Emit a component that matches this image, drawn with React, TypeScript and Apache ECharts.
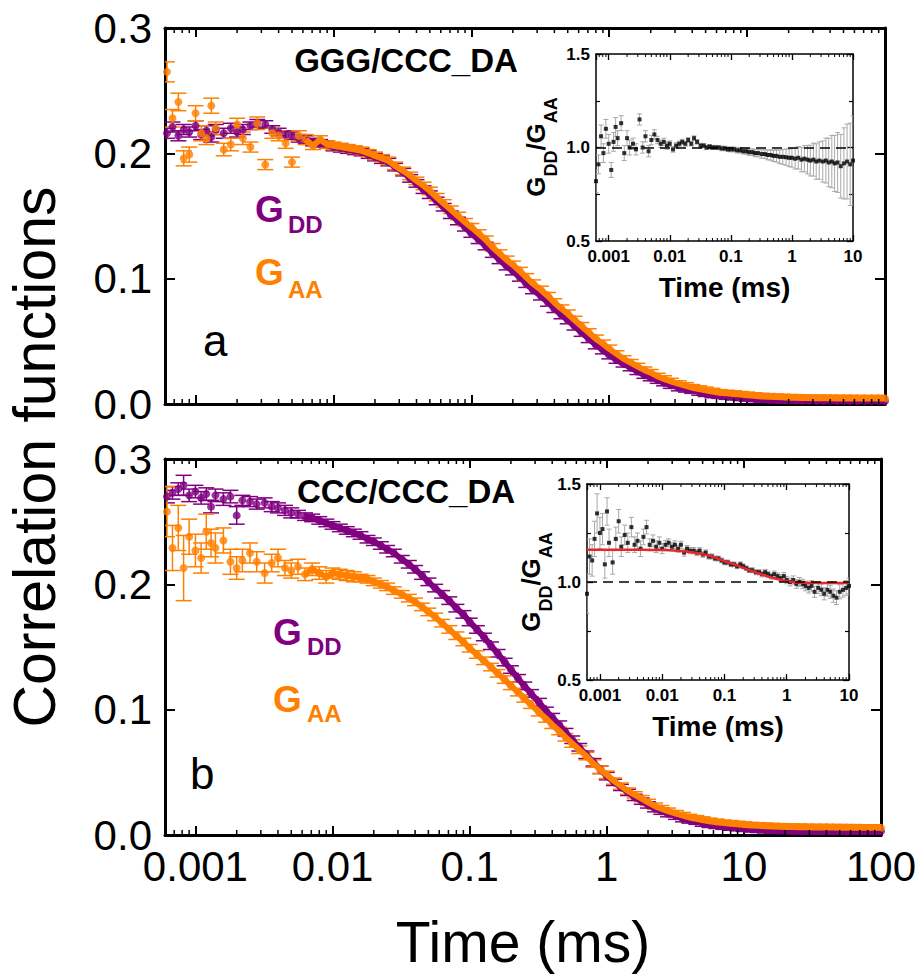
import React, { useEffect, useRef } from 'react';
import * as echarts from 'echarts';

// ---------------- data ----------------
const times = [
  0.00062, 0.00068, 0.00075, 0.00082, 0.0009, 0.001, 0.0011, 0.0012, 0.0013, 0.0014,
  0.0016, 0.0018, 0.002, 0.0022, 0.0025, 0.0028, 0.0032, 0.0036, 0.004, 0.0045,
  0.005, 0.0056, 0.0063, 0.0071, 0.008, 0.009, 0.01, 0.0113, 0.0127, 0.0143,
  0.016, 0.018, 0.02, 0.0225, 0.025, 0.028, 0.032, 0.036, 0.04, 0.045,
  0.05, 0.056, 0.063, 0.071, 0.08, 0.09, 0.1, 0.113, 0.127, 0.143,
  0.16, 0.18, 0.2, 0.225, 0.25, 0.28, 0.32, 0.36, 0.4, 0.45,
  0.5, 0.56, 0.63, 0.71, 0.8, 0.9, 1, 1.13, 1.27, 1.43,
  1.6, 1.8, 2, 2.25, 2.5, 2.8, 3.2, 3.6, 4, 4.5,
  5, 5.6, 6.3, 7.1, 8, 9, 10, 11.3, 12.7, 14.3,
  16, 18, 20, 22.5, 25, 28, 32, 36, 40, 45,
  50, 56, 63, 71, 80, 90, 100,
];

// panel a: GGG/CCC_DA
const gddA = [
  0.216, 0.221, 0.214, 0.219, 0.217, 0.222, 0.215, 0.218, 0.213, 0.219,
  0.216, 0.220, 0.217, 0.219, 0.222, 0.224, 0.223, 0.219, 0.217, 0.215,
  0.214, 0.212, 0.211, 0.209, 0.208, 0.207, 0.205,
  0.204, 0.203, 0.202, 0.201, 0.199, 0.197, 0.195, 0.193, 0.189, 0.185,
  0.180, 0.176, 0.171, 0.167, 0.162, 0.157, 0.151, 0.146, 0.141, 0.136,
  0.131, 0.126, 0.120, 0.115, 0.110, 0.106, 0.101, 0.096, 0.091, 0.086,
  0.081, 0.076, 0.071, 0.067, 0.062, 0.057, 0.052, 0.047, 0.043, 0.039,
  0.035, 0.032, 0.029, 0.026, 0.023, 0.021, 0.019, 0.017, 0.015, 0.013,
  0.012, 0.011, 0.0095, 0.0085, 0.0075, 0.007, 0.0062, 0.0057, 0.0052, 0.0048,
  0.0044, 0.004, 0.0037, 0.0034, 0.0032, 0.003, 0.0029, 0.0028, 0.0027, 0.0026,
  0.0025, 0.0025, 0.0024, 0.0024, 0.0024, 0.0023, 0.0023, 0.0023, 0.0023, 0.0023,
];
const gddAErr = [
  0.004, 0.004, 0.004, 0.004, 0.004, 0.004, 0.004, 0.004, 0.004, 0.004,
  0.004, 0.004, 0.004, 0.004, 0.003, 0.003, 0.003, 0.003, 0.003, 0.003,
  0.003, 0.003, 0.003, 0.003, 0.003, 0.003, 0.003,
  0.003, 0.003, 0.003, 0.003, 0.003, 0.003, 0.003, 0.003, 0.003, 0.003,
  0.003, 0.003, 0.003, 0.003, 0.003, 0.003, 0.003, 0.003, 0.003, 0.003,
  0.003, 0.003, 0.003, 0.003, 0.003, 0.003, 0.003, 0.003, 0.003, 0.003,
  0.003, 0.003, 0.003, 0.003, 0.003, 0.003, 0.003, 0.003, 0.003, 0.003,
  0.0025, 0.0025, 0.0025, 0.0025, 0.0025, 0.0025, 0.0025, 0.0025, 0.0025, 0.0025,
  0.0025, 0.0025, 0.0025, 0.0025, 0.0025, 0.0025, 0.0025, 0.0025, 0.0025, 0.0025,
  0.0025, 0.0025, 0.0025, 0.0025, 0.0025, 0.0025, 0.0025, 0.0025, 0.0025, 0.0025,
  0.0025, 0.0025, 0.0025, 0.0025, 0.0025, 0.0025, 0.0025, 0.0025, 0.0025, 0.0025,
];
const gaaA = [
  0.265, 0.228, 0.241, 0.196, 0.199, 0.232, 0.216, 0.212, 0.238, 0.220,
  0.203, 0.207, 0.223, 0.212, 0.205, 0.224, 0.191, 0.216, 0.214, 0.208,
  0.193, 0.214, 0.211, 0.206, 0.211, 0.207, 0.206,
  0.205, 0.204, 0.203, 0.202, 0.200, 0.198, 0.196, 0.194, 0.190, 0.186,
  0.182, 0.178, 0.174, 0.170, 0.165, 0.160, 0.155, 0.150, 0.145, 0.141,
  0.136, 0.131, 0.125, 0.120, 0.115, 0.111, 0.106, 0.101, 0.096, 0.091,
  0.086, 0.081, 0.076, 0.072, 0.067, 0.062, 0.057, 0.052, 0.048, 0.044,
  0.040, 0.036, 0.033, 0.030, 0.027, 0.025, 0.022, 0.020, 0.018, 0.016,
  0.0145, 0.013, 0.012, 0.011, 0.010, 0.009, 0.0085, 0.008, 0.0075, 0.007,
  0.0065, 0.006, 0.0058, 0.0055, 0.0053, 0.005, 0.005, 0.0048, 0.0047, 0.0046,
  0.0045, 0.0045, 0.0044, 0.0044, 0.0044, 0.0043, 0.0043, 0.0043, 0.0043, 0.0043,
];
const gaaAErr = [
  0.008, 0.007, 0.007, 0.006, 0.006, 0.006, 0.006, 0.005, 0.006, 0.005,
  0.005, 0.005, 0.005, 0.005, 0.004, 0.005, 0.004, 0.004, 0.004, 0.004,
  0.004, 0.004, 0.004, 0.003, 0.003, 0.003, 0.003,
  0.003, 0.003, 0.003, 0.003, 0.003, 0.003, 0.003, 0.003, 0.003, 0.003,
  0.003, 0.003, 0.003, 0.003, 0.003, 0.003, 0.003, 0.003, 0.003, 0.003,
  0.003, 0.003, 0.003, 0.003, 0.003, 0.003, 0.003, 0.003, 0.003, 0.003,
  0.003, 0.003, 0.003, 0.003, 0.003, 0.003, 0.003, 0.003, 0.003, 0.003,
  0.0025, 0.0025, 0.0025, 0.0025, 0.0025, 0.0025, 0.0025, 0.0025, 0.0025, 0.0025,
  0.0025, 0.0025, 0.0025, 0.0025, 0.0025, 0.0025, 0.0025, 0.0025, 0.0025, 0.0025,
  0.0025, 0.0025, 0.0025, 0.0025, 0.0025, 0.0025, 0.0025, 0.0025, 0.0025, 0.0025,
  0.0025, 0.0025, 0.0025, 0.0025, 0.0025, 0.0025, 0.0025, 0.0025, 0.0025, 0.0025,
];

// panel b: CCC/CCC_DA
const gddB = [
  0.270, 0.273, 0.276, 0.279, 0.271, 0.274, 0.269, 0.272, 0.262, 0.271,
  0.268, 0.270, 0.255, 0.267, 0.266, 0.264, 0.265, 0.262, 0.261, 0.259,
  0.257, 0.256, 0.254, 0.253, 0.251, 0.249, 0.247,
  0.245, 0.243, 0.241, 0.239, 0.236, 0.234, 0.231, 0.228, 0.225, 0.220,
  0.216, 0.212, 0.207, 0.202, 0.197, 0.192, 0.187, 0.181, 0.176, 0.170,
  0.164, 0.158, 0.151, 0.145, 0.138, 0.132, 0.125, 0.119, 0.113, 0.106,
  0.099, 0.094, 0.088, 0.082, 0.076, 0.070, 0.064, 0.058, 0.052, 0.047,
  0.042, 0.038, 0.034, 0.030, 0.027, 0.024, 0.021, 0.019, 0.017, 0.015,
  0.013, 0.012, 0.011, 0.0095, 0.0085, 0.0077, 0.007, 0.0063, 0.0058, 0.0053,
  0.0049, 0.0045, 0.0042, 0.004, 0.0038, 0.0036, 0.0035, 0.0034, 0.0033, 0.0032,
  0.0032, 0.0031, 0.0031, 0.0031, 0.003, 0.003, 0.003, 0.003, 0.003, 0.003,
];
const gddBErr = [
  0.005, 0.005, 0.005, 0.008, 0.005, 0.005, 0.005, 0.005, 0.005, 0.005,
  0.005, 0.005, 0.007, 0.004, 0.004, 0.004, 0.004, 0.004, 0.004, 0.004,
  0.004, 0.003, 0.003, 0.003, 0.003, 0.003, 0.003,
  0.003, 0.003, 0.003, 0.003, 0.003, 0.003, 0.003, 0.003, 0.003, 0.003,
  0.003, 0.003, 0.003, 0.003, 0.003, 0.003, 0.003, 0.003, 0.003, 0.003,
  0.003, 0.003, 0.003, 0.003, 0.003, 0.003, 0.003, 0.003, 0.003, 0.003,
  0.003, 0.003, 0.003, 0.003, 0.003, 0.003, 0.003, 0.003, 0.003, 0.003,
  0.0025, 0.0025, 0.0025, 0.0025, 0.0025, 0.0025, 0.0025, 0.0025, 0.0025, 0.0025,
  0.0025, 0.0025, 0.0025, 0.0025, 0.0025, 0.0025, 0.0025, 0.0025, 0.0025, 0.0025,
  0.0025, 0.0025, 0.0025, 0.0025, 0.0025, 0.0025, 0.0025, 0.0025, 0.0025, 0.0025,
  0.0025, 0.0025, 0.0025, 0.0025, 0.0025, 0.0025, 0.0025, 0.0025, 0.0025, 0.0025,
];
const gaaB = [
  0.258, 0.229, 0.245, 0.213, 0.238, 0.227, 0.221, 0.242, 0.233, 0.229,
  0.235, 0.218, 0.213, 0.219, 0.225, 0.218, 0.209, 0.217, 0.221, 0.213,
  0.211, 0.214, 0.208, 0.212, 0.209, 0.206, 0.209,
  0.208, 0.207, 0.206, 0.205, 0.204, 0.202, 0.200, 0.198, 0.195, 0.192,
  0.189, 0.186, 0.182, 0.178, 0.174, 0.169, 0.164, 0.159, 0.154, 0.149,
  0.144, 0.139, 0.134, 0.129, 0.124, 0.119, 0.114, 0.109, 0.104, 0.098,
  0.093, 0.088, 0.083, 0.078, 0.073, 0.068, 0.063, 0.057, 0.052, 0.048,
  0.043, 0.039, 0.035, 0.032, 0.029, 0.026, 0.023, 0.021, 0.019, 0.017,
  0.0155, 0.014, 0.013, 0.012, 0.011, 0.0102, 0.0095, 0.009, 0.0085, 0.008,
  0.0076, 0.0073, 0.007, 0.0068, 0.0066, 0.0064, 0.0063, 0.0062, 0.0061, 0.006,
  0.006, 0.0059, 0.0059, 0.0058, 0.0058, 0.0058, 0.0057, 0.0057, 0.0057, 0.0057,
];
const gaaBErr = [
  0.020, 0.018, 0.018, 0.026, 0.014, 0.013, 0.012, 0.014, 0.011, 0.012,
  0.010, 0.010, 0.009, 0.009, 0.008, 0.008, 0.008, 0.007, 0.007, 0.006,
  0.006, 0.006, 0.005, 0.005, 0.005, 0.005, 0.004,
  0.004, 0.004, 0.004, 0.003, 0.003, 0.003, 0.003, 0.003, 0.003, 0.003,
  0.003, 0.003, 0.003, 0.003, 0.003, 0.003, 0.003, 0.003, 0.003, 0.003,
  0.003, 0.003, 0.003, 0.003, 0.003, 0.003, 0.003, 0.003, 0.003, 0.003,
  0.003, 0.003, 0.003, 0.003, 0.003, 0.003, 0.003, 0.003, 0.003, 0.003,
  0.0025, 0.0025, 0.0025, 0.0025, 0.0025, 0.0025, 0.0025, 0.0025, 0.0025, 0.0025,
  0.0025, 0.0025, 0.0025, 0.0025, 0.0025, 0.0025, 0.0025, 0.0025, 0.0025, 0.0025,
  0.0025, 0.0025, 0.0025, 0.0025, 0.0025, 0.0025, 0.0025, 0.0025, 0.0025, 0.0025,
  0.0025, 0.0025, 0.0025, 0.0025, 0.0025, 0.0025, 0.0025, 0.0025, 0.0025, 0.0025,
];

// insets: G_DD / G_AA ratio (times 0.00062 .. 10)
const ratioA = [
  0.82, 0.91, 1.06, 0.97, 1.10, 1.02, 0.88, 1.03, 1.11, 1.05,
  1.13, 0.97, 1.05, 1.00, 1.02, 0.99, 1.15, 1.00, 1.06, 0.98,
  1.04, 1.07, 1.04, 1.02, 1.03, 1.01, 1.02,
  0.99, 1.01, 1.02, 1.03, 1.02, 1.04, 1.02, 1.05, 1.03, 1.01,
  1.01, 1.00, 1.005, 1.00, 1.00, 1.00, 0.995, 0.995, 0.99, 0.99,
  0.99, 0.985, 0.985, 0.98, 0.98, 0.975, 0.975, 0.97, 0.97, 0.965,
  0.965, 0.96, 0.96, 0.955, 0.955, 0.95, 0.95, 0.948, 0.945, 0.945,
  0.94, 0.945, 0.935, 0.94, 0.935, 0.93, 0.935, 0.925, 0.93, 0.925,
  0.93, 0.92, 0.925, 0.915, 0.92, 0.90, 0.915, 0.925, 0.91, 0.93,
];
const ratioAErr = [
  0.06, 0.05, 0.06, 0.05, 0.05, 0.05, 0.04, 0.05, 0.05, 0.04,
  0.04, 0.04, 0.04, 0.04, 0.03, 0.03, 0.03, 0.03, 0.03, 0.03,
  0.025, 0.025, 0.02, 0.02, 0.02, 0.02, 0.015,
  0.015, 0.015, 0.014, 0.014, 0.013, 0.013, 0.012, 0.012, 0.012, 0.012,
  0.011, 0.011, 0.011, 0.011, 0.011, 0.011, 0.012, 0.012, 0.012, 0.013,
  0.013, 0.014, 0.014, 0.015, 0.016, 0.017, 0.018, 0.019, 0.02, 0.022,
  0.024, 0.026, 0.028, 0.03, 0.033, 0.036, 0.04, 0.043, 0.047, 0.05,
  0.055, 0.06, 0.065, 0.07, 0.076, 0.082, 0.088, 0.095, 0.1, 0.11,
  0.12, 0.13, 0.14, 0.15, 0.16, 0.17, 0.19, 0.2, 0.22, 0.24,
];
const ratioB = [
  0.94, 1.13, 1.11, 1.22, 1.35, 1.25, 1.27, 1.09, 1.36, 1.20,
  1.10, 1.22, 1.31, 1.18, 1.24, 1.20, 1.28, 1.19, 1.21, 1.17,
  1.23, 1.28, 1.19, 1.21, 1.18, 1.20, 1.17,
  1.19, 1.20, 1.18, 1.19, 1.17, 1.19, 1.15, 1.17, 1.16, 1.16,
  1.15, 1.16, 1.14, 1.15, 1.13, 1.13, 1.12, 1.12, 1.11, 1.10,
  1.10, 1.09, 1.09, 1.08, 1.09, 1.08, 1.07, 1.06, 1.06, 1.05,
  1.05, 1.04, 1.05, 1.04, 1.03, 1.04, 1.03, 1.02, 1.03, 1.01,
  1.00, 1.01, 0.99, 1.00, 0.99, 0.98, 0.97, 0.98, 0.95, 0.97,
  0.96, 0.94, 0.96, 0.95, 0.93, 0.92, 0.95, 0.96, 0.97, 0.98,
];
const ratioBErr = [
  0.10, 0.09, 0.08, 0.09, 0.10, 0.08, 0.08, 0.07, 0.07, 0.07,
  0.06, 0.06, 0.06, 0.05, 0.05, 0.05, 0.05, 0.04, 0.04, 0.04,
  0.04, 0.035, 0.03, 0.03, 0.03, 0.03, 0.025,
  0.022, 0.02, 0.02, 0.02, 0.018, 0.018, 0.018, 0.016, 0.016, 0.016,
  0.015, 0.015, 0.014, 0.014, 0.013, 0.013, 0.012, 0.012, 0.012, 0.012,
  0.012, 0.012, 0.012, 0.012, 0.012, 0.012, 0.012, 0.012, 0.013, 0.013,
  0.013, 0.014, 0.014, 0.015, 0.015, 0.016, 0.016, 0.017, 0.018, 0.019,
  0.02, 0.021, 0.022, 0.023, 0.024, 0.025, 0.026, 0.027, 0.028, 0.029,
  0.03, 0.031, 0.032, 0.033, 0.034, 0.035, 0.036, 0.037, 0.038, 0.04,
];
const fitTimes = [0.00062, 0.001, 0.002, 0.005, 0.01, 0.02, 0.03, 0.05, 0.07, 0.1, 0.15, 0.2, 0.3, 0.5, 0.7, 1, 1.5, 2, 3, 5, 10];
const fitB = [1.165, 1.165, 1.165, 1.164, 1.163, 1.158, 1.152, 1.138, 1.125, 1.106, 1.088, 1.072, 1.052, 1.028, 1.015, 1.004, 0.998, 0.996, 0.995, 0.995, 0.995];
const ratioRefLevel = 1;

const mainXTickLabels = ['0.001', '0.01', '0.1', '1', '10', '100'];
const insetXTickLabels = ['0.001', '0.01', '0.1', '1', '10'];

// ---------------- style ----------------
const FONT = '"Liberation Sans", Arial, Helvetica, sans-serif';
const PURPLE = '#800080';
const ORANGE = '#ff8000';
const MAIN_X = [0.0006, 100];
const INSET_X = [0.00062, 10];
const LINE_START = 22;

function logLabel(labels: string[]) {
  return (v: number) => {
    const e = Math.log10(v);
    const r = Math.round(e);
    if (Math.abs(e - r) > 1e-6) return '';
    const s = labels[r + 3];
    return s === undefined ? '' : s;
  };
}

function minorValues(lo: number, hi: number) {
  const out: number[] = [];
  for (let e = -5; e <= 3; e++) {
    for (let m = 2; m <= 9; m++) {
      const v = m * Math.pow(10, e);
      if (v > lo * 1.02 && v < hi * 0.98) out.push(v);
    }
  }
  return out;
}

function xAxisDef(grid: number, pos: string, range: number[], inset: boolean, showLabels: boolean, labels: string[], name?: string) {
  return {
    type: 'log', logBase: 10, gridIndex: grid, position: pos, min: range[0], max: range[1],
    name: name || '', nameLocation: 'middle', nameGap: inset ? 32 : 78,
    nameTextStyle: { fontFamily: FONT, fontSize: inset ? 28 : 57, fontWeight: inset ? 'bold' : 'normal', color: '#000' },
    axisLine: { show: true, onZero: false, lineStyle: { color: '#000', width: inset ? 1.5 : 3 } },
    axisTick: { show: true, inside: true, length: inset ? 6 : 9, lineStyle: { color: '#000', width: inset ? 1.3 : 2 } },
    minorTick: { show: false },
    splitLine: { show: false },
    minorSplitLine: { show: false },
    axisLabel: {
      show: showLabels, fontFamily: FONT, fontSize: inset ? 17 : 42, fontWeight: inset ? 'bold' : 'normal',
      color: '#000', margin: inset ? 7 : 10, showMinLabel: false, formatter: logLabel(labels),
    },
  };
}

function yAxisDef(grid: number, pos: string, inset: boolean, showLabels: boolean) {
  return {
    type: 'value', gridIndex: grid, position: pos,
    min: inset ? 0.5 : 0, max: inset ? 1.5 : 0.3, interval: inset ? 0.5 : 0.1,
    axisLine: { show: true, onZero: false, lineStyle: { color: '#000', width: inset ? 1.5 : 3 } },
    axisTick: { show: true, inside: true, length: inset ? 6 : 10, lineStyle: { color: '#000', width: inset ? 1.3 : 2 } },
    minorTick: inset ? { show: true, splitNumber: 2, length: 4, lineStyle: { color: '#000', width: 1.2 } } : { show: false },
    splitLine: { show: false },
    minorSplitLine: { show: false },
    axisLabel: {
      show: showLabels, fontFamily: FONT, fontSize: inset ? 17 : 42, fontWeight: inset ? 'bold' : 'normal',
      color: '#000', margin: inset ? 6 : 13, formatter: (v: number) => v.toFixed(1),
    },
  };
}

function errSeries(xi: number, ts: number[], vs: number[], es: number[], color: string, capW: number, lw: number) {
  return {
    type: 'custom', xAxisIndex: xi, yAxisIndex: xi, silent: true, clip: true,
    data: vs.map((v, i) => [ts[i], v, es[i]]),
    encode: { x: 0, y: 1 },
    renderItem: (_p: any, api: any) => {
      const x = api.value(0), y = api.value(1), e = api.value(2);
      const lo = api.coord([x, y - e]);
      const hi = api.coord([x, y + e]);
      const h = capW / 2;
      const style = { stroke: color, lineWidth: lw };
      return {
        type: 'group', children: [
          { type: 'line', shape: { x1: lo[0], y1: lo[1], x2: hi[0], y2: hi[1] }, style },
          { type: 'line', shape: { x1: lo[0] - h, y1: lo[1], x2: lo[0] + h, y2: lo[1] }, style },
          { type: 'line', shape: { x1: hi[0] - h, y1: hi[1], x2: hi[0] + h, y2: hi[1] }, style },
        ],
      };
    },
  };
}

function minorTickSeries(xi: number, range: number[], yLo: number, yHi: number, len: number, lw: number) {
  return {
    type: 'custom', xAxisIndex: xi, yAxisIndex: xi, silent: true, z: 10,
    data: minorValues(range[0], range[1]).map((v) => [v, yLo]),
    encode: { x: 0, y: 1 },
    renderItem: (_p: any, api: any) => {
      const b = api.coord([api.value(0), yLo]);
      const t = api.coord([api.value(0), yHi]);
      const style = { stroke: '#000', lineWidth: lw };
      return {
        type: 'group', children: [
          { type: 'line', shape: { x1: b[0], y1: b[1], x2: b[0], y2: b[1] - len }, style },
          { type: 'line', shape: { x1: t[0], y1: t[1], x2: t[0], y2: t[1] + len }, style },
        ],
      };
    },
  };
}

function pts(ts: number[], vs: number[], from = 0) {
  const out: number[][] = [];
  for (let i = from; i < vs.length; i++) out.push([ts[i], vs[i]]);
  return out;
}

function mainSeries(xi: number, vals: number[], errs: number[], color: string) {
  return [
    errSeries(xi, times, vals, errs, color, 16, 1.5),
    {
      type: 'line', xAxisIndex: xi, yAxisIndex: xi, data: pts(times, vals, LINE_START),
      showSymbol: false, symbol: 'none', silent: true, clip: true,
      lineStyle: { color, width: 6 },
    },
    {
      type: 'scatter', xAxisIndex: xi, yAxisIndex: xi, data: pts(times, vals),
      symbol: 'circle', symbolSize: 8, silent: true, itemStyle: { color },
    },
  ];
}

function insetSeries(xi: number, vals: number[], errs: number[]) {
  return [
    errSeries(xi, times, vals, errs, '#a8a8a8', 5, 1),
    {
      type: 'scatter', xAxisIndex: xi, yAxisIndex: xi, data: pts(times, vals),
      symbol: 'rect', symbolSize: 4, silent: true, itemStyle: { color: '#000' },
      markLine: {
        silent: true, symbol: 'none', label: { show: false },
        lineStyle: { color: '#000', width: 1.5, type: [10, 6] },
        data: [{ yAxis: ratioRefLevel }],
      },
    },
  ];
}

function txt(text: string, x: number, y: number, size: number, color: string, bold: boolean, align = 'left', extra: any = {}) {
  return {
    type: 'text', x, y, silent: true, ...extra,
    style: {
      text, fill: color, fontFamily: FONT, fontSize: size, fontWeight: bold ? 'bold' : 'normal',
      align, textAlign: align, verticalAlign: 'middle', textVerticalAlign: 'middle',
    },
  };
}

function ratioName(x: number, yCenter: number) {
  const G = 26, S = 18;
  const gy = -0.35 * G, sy = 12 - 0.35 * S;
  return {
    type: 'group', x, y: yCenter + 49.8, rotation: Math.PI / 2, silent: true,
    children: [
      txt('G', 0, gy, G, '#000', true),
      txt('DD', 20.2, sy, S, '#000', true),
      txt('/', 46.2, gy, G, '#000', true),
      txt('G', 53.4, gy, G, '#000', true),
      txt('AA', 73.6, sy, S, '#000', true),
    ],
  };
}

function buildOption() {
  return {
    animation: false,
    backgroundColor: '#fff',
    grid: [
      { left: 165, top: 28, width: 720, height: 376, outerBoundsMode: 'none' },
      { left: 165, top: 459, width: 716, height: 376, outerBoundsMode: 'none' },
      { left: 596, top: 54, width: 257, height: 187, outerBoundsMode: 'none' },
      { left: 587, top: 484, width: 262, height: 196, outerBoundsMode: 'none' },
    ],
    xAxis: [
      xAxisDef(0, 'bottom', MAIN_X, false, false, mainXTickLabels),
      xAxisDef(1, 'bottom', MAIN_X, false, true, mainXTickLabels, 'Time (ms)'),
      xAxisDef(2, 'bottom', INSET_X, true, true, insetXTickLabels, 'Time (ms)'),
      xAxisDef(3, 'bottom', INSET_X, true, true, insetXTickLabels, 'Time (ms)'),
      xAxisDef(0, 'top', MAIN_X, false, false, mainXTickLabels),
      xAxisDef(1, 'top', MAIN_X, false, false, mainXTickLabels),
      xAxisDef(2, 'top', INSET_X, true, false, insetXTickLabels),
      xAxisDef(3, 'top', INSET_X, true, false, insetXTickLabels),
    ],
    yAxis: [
      yAxisDef(0, 'left', false, true),
      yAxisDef(1, 'left', false, true),
      yAxisDef(2, 'left', true, true),
      yAxisDef(3, 'left', true, true),
      yAxisDef(0, 'right', false, false),
      yAxisDef(1, 'right', false, false),
      yAxisDef(2, 'right', true, false),
      yAxisDef(3, 'right', true, false),
    ],
    series: [
      ...mainSeries(0, gddA, gddAErr, PURPLE),
      ...mainSeries(0, gaaA, gaaAErr, ORANGE),
      ...mainSeries(1, gddB, gddBErr, PURPLE),
      ...mainSeries(1, gaaB, gaaBErr, ORANGE),
      ...insetSeries(2, ratioA, ratioAErr),
      ...insetSeries(3, ratioB, ratioBErr),
      {
        type: 'line', xAxisIndex: 3, yAxisIndex: 3, data: pts(fitTimes, fitB),
        smooth: true, showSymbol: false, symbol: 'none', silent: true,
        lineStyle: { color: '#e8262b', width: 2.5 },
      },
      minorTickSeries(0, MAIN_X, 0, 0.3, 5, 1.5),
      minorTickSeries(1, MAIN_X, 0, 0.3, 5, 1.5),
      minorTickSeries(2, INSET_X, 0.5, 1.5, 3, 1),
      minorTickSeries(3, INSET_X, 0.5, 1.5, 3, 1),
    ],
    graphic: [
      txt('Correlation functions', 35, 457, 59, '#000', false, 'center', { rotation: Math.PI / 2 }),
      txt('GGG/CCC_DA', 406, 60.6, 33, '#000', true, 'center'),
      txt('CCC/CCC_DA', 406, 491.6, 33, '#000', true, 'center'),
      txt('G', 255, 209, 37, PURPLE, true),
      txt('DD', 288, 224.6, 24, PURPLE, true),
      txt('G', 255, 272, 37, ORANGE, true),
      txt('AA', 288, 289.6, 24, ORANGE, true),
      txt('a', 203, 340, 44, '#000', false),
      txt('G', 273, 632, 37, PURPLE, true),
      txt('DD', 307, 646.6, 24, PURPLE, true),
      txt('G', 273, 699, 37, ORANGE, true),
      txt('AA', 307, 713.6, 24, ORANGE, true),
      txt('b', 190, 773, 44, '#000', false),
      ratioName(545, 147),
      ratioName(540, 582),
    ],
  };
}

export default function App() {
  const ref = useRef<HTMLDivElement>(null);
  useEffect(() => {
    if (!ref.current) return;
    const chart = echarts.init(ref.current, null, { renderer: 'svg' });
    chart.setOption(buildOption() as any);
    return () => chart.dispose();
  }, []);
  return (
    <div
      ref={ref}
      style={{ position: 'absolute', left: 0, top: 0, width: 922, height: 978, background: '#fff' }}
    />
  );
}
